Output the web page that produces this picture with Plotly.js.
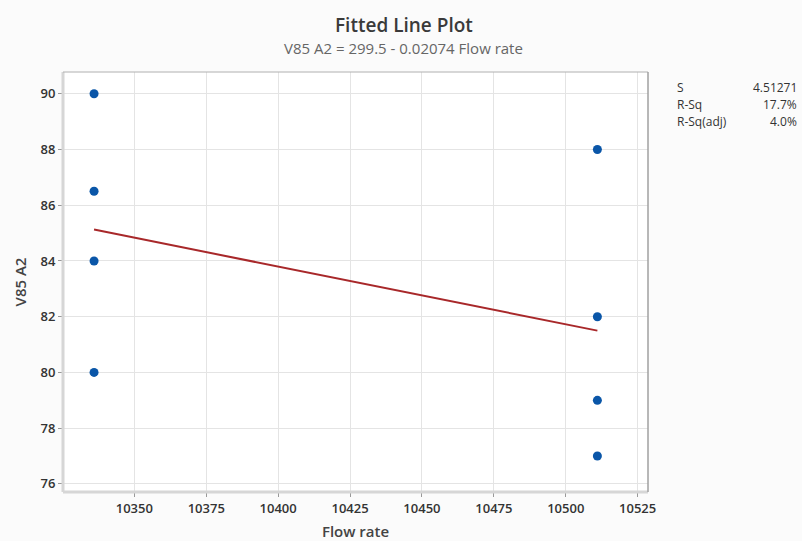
<!DOCTYPE html>
<html>
<head>
<meta charset="utf-8">
<script src="https://cdn.plot.ly/plotly-3.0.1.min.js"></script>
<style>html,body{margin:0;padding:0;background:#fbfbfb;}#chart{width:802px;height:541px;}</style>
</head>
<body>
<div id="chart"></div>
<script>
// Data
const flowRate = [10336, 10336, 10336, 10336, 10511, 10511, 10511, 10511];
const v85A2 = [90, 86.5, 84, 80, 88, 82, 79, 77];
const xTicks = [10350, 10375, 10400, 10425, 10450, 10475, 10500, 10525];
const yTicks = [76, 78, 80, 82, 84, 86, 88, 90];
const statLabels = ["S", "R-Sq", "R-Sq(adj)"];
const statValues = ["4.51271", "17.7%", "4.0%"];

// Least-squares fit from the data
const n = flowRate.length;
const mx = flowRate.reduce((a, b) => a + b, 0) / n;
const my = v85A2.reduce((a, b) => a + b, 0) / n;
let sxy = 0, sxx = 0;
for (let i = 0; i < n; i++) { sxy += (flowRate[i] - mx) * (v85A2[i] - my); sxx += (flowRate[i] - mx) ** 2; }
const slope = sxy / sxx;
const intercept = my - slope * mx;
const xmin = Math.min(...flowRate), xmax = Math.max(...flowRate);
const fitX = [xmin, xmax];
const fitY = fitX.map(x => intercept + slope * x);

const font = "Open Sans, Noto Sans, sans-serif";

const traces = [
  { x: fitX, y: fitY, mode: "lines", line: { color: "#a8282a", width: 2 }, hoverinfo: "skip" },
  { x: flowRate, y: v85A2, mode: "markers", marker: { color: "#0a56a8", size: 9 } }
];

const layout = {
  width: 802, height: 541,
  paper_bgcolor: "#fbfbfb", plot_bgcolor: "#ffffff",
  margin: { l: 63, r: 154, t: 72, b: 49 },
  showlegend: false,
  font: { family: font, color: "#333" },
  xaxis: {
    range: [10325.2, 10528.6], tickvals: xTicks, ticktext: xTicks.map(String),
    showgrid: true, gridcolor: "#e4e4e4", gridwidth: 1, zeroline: false,
    ticks: "outside", ticklen: 4, tickcolor: "#999", showline: false,
    tickfont: { family: font, size: 13, color: "#333", weight: 600 },
    title: { text: "Flow rate", font: { family: font, size: 15, color: "#444", weight: 600 }, standoff: 12 }
  },
  yaxis: {
    range: [75.71, 90.78], tickvals: yTicks, ticktext: yTicks.map(String),
    showgrid: true, gridcolor: "#e4e4e4", gridwidth: 1, zeroline: false,
    ticks: "outside", ticklen: 4, tickcolor: "#999", showline: false,
    tickfont: { family: font, size: 13, color: "#333", weight: 600 },
    title: { text: "V85 A2", font: { family: font, size: 15, color: "#444", weight: 600 }, standoff: 10 }
  },
  shapes: [
    { type: "line", xref: "paper", yref: "paper", x0: 0, x1: 0, y0: 0, y1: 1, line: { color: "#d6d6d6", width: 3 } },
    { type: "line", xref: "paper", yref: "paper", x0: 0, x1: 1, y0: 0, y1: 0, line: { color: "#d6d6d6", width: 3 } },
    { type: "line", xref: "paper", yref: "paper", x0: 0, x1: 1, y0: 1, y1: 1, line: { color: "#b0b0b0", width: 1 } },
    { type: "line", xref: "paper", yref: "paper", x0: 1, x1: 1, y0: 0, y1: 1, line: { color: "#a0a0a0", width: 1.5 } }
  ],
  annotations: []
};

// Title, subtitle and stats placed in paper coords
const H = 541, W = 802, plotH = H - 72 - 49, plotW = W - 63 - 154;
const py = p => (H - 49 - p) / plotH;
const px = p => (p - 63) / plotW;
layout.annotations.push({ text: "Fitted Line Plot", xref: "paper", yref: "paper", x: px(404), y: py(25),
  showarrow: false, xanchor: "center", yanchor: "middle", font: { family: font, size: 19, color: "#3a3a3a", weight: 600 } });
layout.annotations.push({ text: "V85 A2 = 299.5 - 0.02074 Flow rate", xref: "paper", yref: "paper", x: px(403), y: py(48),
  showarrow: false, xanchor: "center", yanchor: "middle", font: { family: font, size: 15, color: "#666" } });
const statY = [88, 104.5, 121];
statLabels.forEach((s, i) => {
  layout.annotations.push({ text: s, xref: "paper", yref: "paper", x: px(675), y: py(statY[i]), showarrow: false,
    xanchor: "left", yanchor: "middle", font: { family: font, size: 12, color: "#333", weight: 500 } });
  layout.annotations.push({ text: statValues[i], xref: "paper", yref: "paper", x: px(799), y: py(statY[i]), showarrow: false,
    xanchor: "right", yanchor: "middle", font: { family: font, size: 12, color: "#333", weight: 500 } });
});

Plotly.newPlot("chart", traces, layout, { displayModeBar: false, staticPlot: true });
</script>
</body>
</html>
